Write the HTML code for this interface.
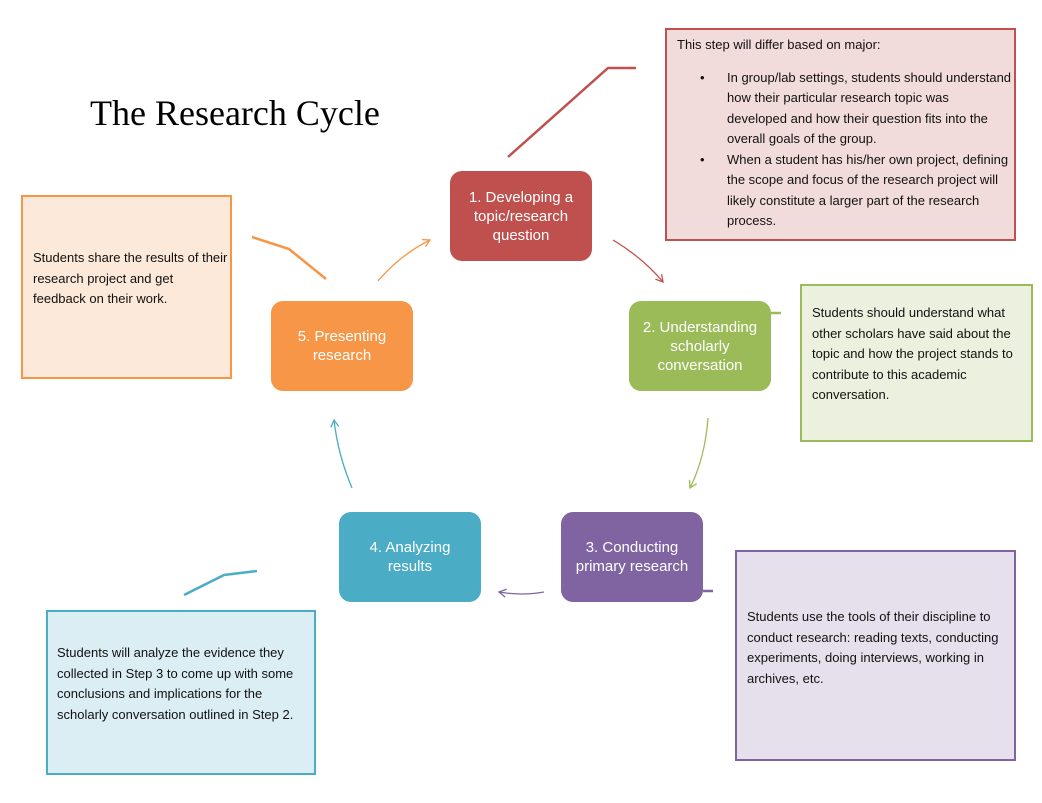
<!DOCTYPE html>
<html><head><meta charset="utf-8"><style>
body{margin:0;background:#fff;width:1042px;height:803px;overflow:hidden;position:relative;font-family:"Liberation Sans",sans-serif}
.n{position:absolute;font-size:13px;line-height:20.5px;color:#111;box-sizing:border-box}
.node{position:absolute;width:142px;height:90px;border-radius:12px;color:#fff;font-size:15px;line-height:19px;display:flex;align-items:center;justify-content:center;text-align:center}
</style></head><body>
<svg width="1042" height="803" style="position:absolute;left:0;top:0">
<defs>
<marker id="a" markerWidth="10" markerHeight="10" refX="8" refY="5" orient="auto" markerUnits="userSpaceOnUse"><path d="M1,1 L8,5 L1,9" fill="none" stroke="context-stroke" stroke-width="1.3"/></marker>
</defs>
<rect x="666" y="29" width="349" height="211" fill="#f2dcdb" stroke="#c0504d" stroke-width="2"/>
<rect x="801" y="285" width="231" height="156" fill="#ebf1de" stroke="#9bbb59" stroke-width="2"/>
<rect x="736" y="551" width="279" height="209" fill="#e5e0ec" stroke="#8064a2" stroke-width="2"/>
<rect x="47" y="611" width="268" height="163" fill="#dbeef4" stroke="#4bacc6" stroke-width="2"/>
<rect x="22" y="196" width="209" height="182" fill="#fde9d9" stroke="#f79646" stroke-width="2"/>
<polyline points="508,157 608,68 636,68" fill="none" stroke="#c0504d" stroke-width="2.5"/>
<polyline points="771,313 781,313" fill="none" stroke="#9bbb59" stroke-width="2.5"/>
<polyline points="703,591 713,591" fill="none" stroke="#8064a2" stroke-width="2.5"/>
<polyline points="184,595 224,575 257,571" fill="none" stroke="#4bacc6" stroke-width="2.5"/>
<polyline points="326,279 289,249 252,237" fill="none" stroke="#f79646" stroke-width="2.5"/>
<path d="M378,281 Q400,255 430,240" fill="none" stroke="#f79646" stroke-width="1.3" marker-end="url(#a)"/>
<path d="M613,240 Q643,258 663,282" fill="none" stroke="#c0504d" stroke-width="1.3" marker-end="url(#a)"/>
<path d="M708,418 Q705,458 690,488" fill="none" stroke="#9bbb59" stroke-width="1.3" marker-end="url(#a)"/>
<path d="M544,592 Q522,596 499,592" fill="none" stroke="#8064a2" stroke-width="1.3" marker-end="url(#a)"/>
<path d="M352,488 Q338,455 334,420" fill="none" stroke="#4bacc6" stroke-width="1.3" marker-end="url(#a)"/>
</svg>
<div style="position:absolute;left:90px;top:92px;font-family:'Liberation Serif',serif;font-size:36px;color:#000">The Research Cycle</div>
<div class="node" style="left:450px;top:171px;background:#c0504d">1. Developing a<br>topic/research<br>question</div>
<div class="node" style="left:629px;top:301px;background:#9bbb59">2. Understanding<br>scholarly<br>conversation</div>
<div class="node" style="left:561px;top:512px;background:#8064a2">3. Conducting<br>primary research</div>
<div class="node" style="left:339px;top:512px;background:#4bacc6">4. Analyzing<br>results</div>
<div class="node" style="left:271px;top:301px;background:#f79646">5. Presenting<br>research</div>
<div class="n" style="left:677px;top:35px;width:335px">This step will differ based on major:
<div style="margin-top:12px;padding-left:50px;position:relative">
<div style="position:relative"><span style="position:absolute;left:-27px">•</span>In group/lab settings, students should understand how their particular research topic was developed and how their question fits into the overall goals of the group.</div>
<div style="position:relative"><span style="position:absolute;left:-27px">•</span>When a student has his/her own project, defining the scope and focus of the research project will likely constitute a larger part of the research process.</div>
</div></div>
<div class="n" style="left:812px;top:303px;width:215px">Students should understand what other scholars have said about the topic and how the project stands to contribute to this academic conversation.</div>
<div class="n" style="left:747px;top:607px;width:265px">Students use the tools of their discipline to conduct research: reading texts, conducting experiments, doing interviews, working in archives, etc.</div>
<div class="n" style="left:57px;top:643px;width:256px">Students will analyze the evidence they collected in Step 3 to come up with some conclusions and implications for the scholarly conversation outlined in Step 2.</div>
<div class="n" style="left:33px;top:248px;width:195px">Students share the results of their research project and get feedback on their work.</div>
</body></html>
